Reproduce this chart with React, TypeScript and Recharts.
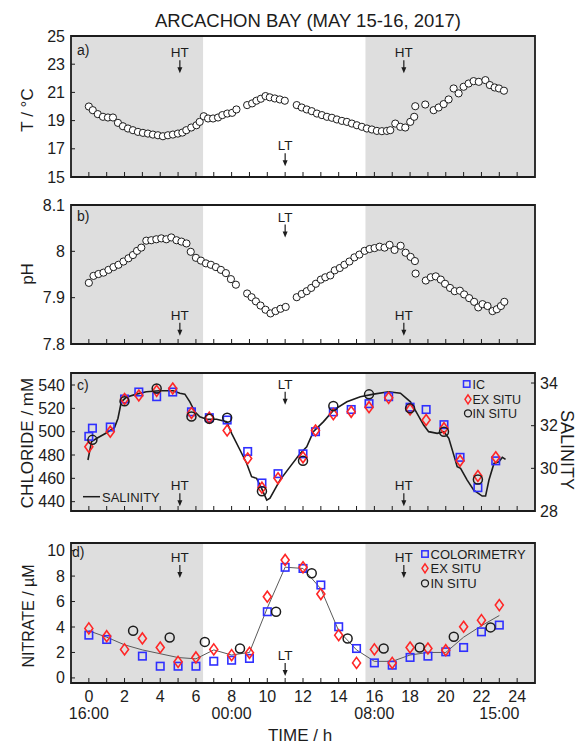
import React from 'react';
import { ComposedChart, Scatter, Line, XAxis, YAxis, ReferenceArea, ReferenceDot } from 'recharts';

const FONT = '"Liberation Sans", Arial, Helvetica, sans-serif';
const INK = '#1c1c1c';
const BLUE = '#2f2fff';
const RED = '#ff2626';
const SHADE = '#dedede';

// ---------- axis / tick data ----------
const hourTicks = [0, 1, 2, 3, 4, 5, 6, 7, 8, 9, 10, 11, 12, 13, 14, 15, 16, 17, 18, 19, 20, 21, 22, 23, 24];
const clockTickHours = [0, 8, 16, 23];
const clockTickLabels = ['16:00', '00:00', '08:00', '15:00'];
const tempTicks = [15, 17, 19, 21, 23, 25];
const phTicks = [7.8, 7.9, 8, 8.1];
const chlorideTicks = [440, 460, 480, 500, 520, 540];
const salinityTicks = [28, 30, 32, 34];
const nitrateTicks = [0, 2, 4, 6, 8, 10];
const nightStarts = [-1, 15.5];
const nightEnds = [6.4, 25];

// ---------- a) temperature ----------
const tempHours = [
  0, 0.22, 0.5, 0.79, 1.07, 1.35, 1.63, 1.91, 2.19, 2.47,
  2.75, 3.03, 3.31, 3.59, 3.87, 4.15, 4.43, 4.71, 4.99, 5.24,
  5.46, 5.74, 6.03, 6.21, 6.44, 6.68, 6.96, 7.24, 7.48, 7.76,
  8.03, 8.27, 8.87, 9.15, 9.39, 9.64, 9.9, 10.14, 10.42, 10.7,
  10.98, 11.65, 11.93, 12.21, 12.49, 12.78, 13.06, 13.34, 13.62, 13.9,
  14.18, 14.46, 14.74, 15.02, 15.3, 15.58, 15.86, 16.14, 16.42, 16.7,
  16.89, 17.17, 17.45, 17.73, 18.01, 18.23, 18.29, 18.85, 19.32, 19.6,
  19.88, 20.16, 20.44, 20.72, 21.0, 21.28, 21.56, 21.85, 22.22, 22.47,
  22.74, 22.98, 23.26,
];
const tempValues = [
  20.0, 19.74, 19.46, 19.27, 19.22, 19.22, 18.84, 18.6, 18.44, 18.32,
  18.2, 18.13, 18.08, 18.01, 17.96, 17.89, 17.96, 18.01, 18.08, 18.15,
  18.32, 18.51, 18.67, 18.91, 19.31, 19.15, 19.15, 19.22, 19.39, 19.5,
  19.55, 19.79, 20.1, 20.22, 20.41, 20.55, 20.74, 20.65, 20.57, 20.5,
  20.41, 20.1, 19.93, 19.79, 19.67, 19.5, 19.39, 19.27, 19.2, 19.08,
  18.98, 18.91, 18.79, 18.67, 18.56, 18.44, 18.37, 18.27, 18.25, 18.27,
  18.32, 18.79, 18.56, 18.51, 18.91, 19.27, 20.02, 20.14, 19.74, 19.93,
  20.17, 20.5, 21.28, 20.93, 21.4, 21.63, 21.8, 21.75, 21.87, 21.52,
  21.35, 21.28, 21.12,
];

// ---------- b) pH ----------
const phHours = [
  0, 0.26, 0.54, 0.82, 1.1, 1.38, 1.66, 1.94, 2.22, 2.47,
  2.7, 2.94, 3.22, 3.5, 3.78, 4.06, 4.34, 4.62, 4.91, 5.19,
  5.47, 5.71, 6.0, 6.28, 6.56, 6.84, 7.12, 7.4, 7.68, 7.96,
  8.24, 8.87, 9.12, 9.36, 9.62, 9.9, 10.18, 10.46, 10.74, 11.03,
  11.65, 11.93, 12.21, 12.46, 12.72, 13.0, 13.25, 13.53, 13.78, 14.06,
  14.32, 14.6, 14.88, 15.16, 15.45, 15.73, 16.01, 16.29, 16.57, 16.85,
  17.13, 17.47, 17.75, 18.03, 18.27, 18.31, 18.88, 19.16, 19.44, 19.72,
  19.96, 20.24, 20.5, 20.79, 21.03, 21.31, 21.59, 21.82, 22.06, 22.34,
  22.62, 22.86, 23.09, 23.28,
];
const phValues = [
  7.932, 7.947, 7.951, 7.954, 7.96, 7.966, 7.971, 7.978, 7.985, 7.992,
  8.001, 8.008, 8.023, 8.024, 8.026, 8.028, 8.026, 8.03, 8.024, 8.021,
  8.017, 7.999, 7.986, 7.98, 7.974, 7.971, 7.966, 7.96, 7.953, 7.94,
  7.928, 7.909, 7.901, 7.892, 7.883, 7.874, 7.866, 7.871, 7.876, 7.88,
  7.901, 7.908, 7.914, 7.921, 7.93, 7.939, 7.944, 7.948, 7.959, 7.964,
  7.971, 7.978, 7.987, 7.993, 8.001, 8.005, 8.007, 8.01, 8.008, 8.014,
  8.003, 8.012, 7.997, 7.988, 7.979, 7.952, 7.937, 7.944, 7.946, 7.939,
  7.93, 7.921, 7.914, 7.915, 7.907, 7.899, 7.891, 7.879, 7.886, 7.882,
  7.871, 7.875, 7.882, 7.891,
];

// ---------- c) chloride / salinity ----------
const clHours = [0, 0.2, 1.2, 2.0, 2.8, 3.8, 4.7, 5.75, 6.75, 7.75, 8.9, 9.7, 10.6, 12.0, 12.7, 13.7, 14.7, 15.7, 16.8, 18.0, 18.9, 19.9, 20.8, 21.8, 22.8];
const clIC = [496, 503, 504, 528, 534, 530, 534, 517, 512, 510, 483, 456, 464, 481, 500, 517, 519, 524, 530, 521, 519, 506, 478, 452, 475];
const clExSitu = [487, null, 500, 528, 531, 535, 537, 516, 512, 501, 477, 452, 460, 478, 501, 515, 517, 521, 529, 519, 510, 503, 475, 462, 478];
const clInSitu = [null, 493, null, 526, null, 537, null, 513, 511, 512, null, 449, null, 475, null, 522, null, 532, null, 520, null, 500, null, 459, null];
const salHours = [
  -0.05, 0.15, 0.45, 1.0, 1.44, 1.63, 1.82, 2.1, 2.66, 3.22,
  3.97, 4.72, 5.1, 5.38, 5.66, 5.94, 6.22, 6.6, 7.16, 7.72,
  8.0, 8.47, 8.84, 9.12, 9.4, 9.68, 9.97, 10.15, 10.71, 11.28,
  11.84, 12.21, 12.58, 13.15, 13.71, 14.46, 15.21, 15.96, 16.8, 17.46,
  18.02, 18.39, 18.76, 19.04, 19.52, 19.89, 20.17, 20.45, 20.64, 20.83,
  21.2, 21.57, 22.04, 22.23, 22.42, 22.7, 22.98, 23.17, 23.35,
];
const salValues = [
  30.39, 31.25, 31.41, 31.67, 31.92, 32.34, 33.12, 33.33, 33.48, 33.59,
  33.64, 33.64, 33.52, 33.48, 33.12, 32.65, 32.42, 32.3, 32.3, 32.19,
  31.64, 30.86, 30.24, 29.61, 29.53, 29.06, 28.51, 28.6, 29.45, 30.08,
  30.7, 31.01, 31.72, 32.19, 32.73, 33.12, 33.36, 33.48, 33.59, 33.52,
  33.12, 32.58, 32.03, 31.72, 31.64, 31.72, 31.41, 30.62, 30.08, 30.0,
  29.45, 28.98, 28.7, 28.7, 29.45, 30.23, 30.31, 30.52, 30.42,
];

// ---------- d) nitrate ----------
const colHours = [0, 1, 3, 4, 5, 6, 7, 8, 9, 10, 11, 12, 13, 14, 15, 16, 17, 18, 19, 20, 21, 22, 23];
const colValues = [3.36, 3.02, 1.71, 0.92, 0.92, 0.92, 1.31, 1.39, 1.53, 5.2, 8.69, 8.6, 7.3, 4.02, 2.31, 1.18, 1.0, 1.61, 1.71, 2.05, 2.39, 3.62, 4.15];
const exHours = [0, 1, 2, 3, 4, 5, 6, 7, 8, 9, 10, 11, 12, 13, 14, 15, 16, 17, 18, 19, 20, 21, 22, 23];
const exValues = [3.89, 3.28, 2.24, 3.1, 2.39, 1.26, 1.61, 2.24, 1.79, 1.97, 6.38, 9.27, 8.69, 6.59, 3.36, 1.18, 2.24, 1.18, 2.39, 2.31, 2.18, 4.02, 4.54, 5.72];
const inHours = [2.48, 4.53, 6.5, 8.47, 10.49, 12.49, 14.5, 16.52, 18.54, 20.45, 22.51];
const inValues = [3.7, 3.18, 2.83, 2.31, 5.2, 8.22, 3.1, 2.31, 2.39, 3.23, 3.97];
const nitLineHours = [0, 1, 2, 3, 4, 5, 6, 7, 8, 9, 10, 11, 12, 13, 14, 15, 16, 17, 18, 19, 20, 21, 22, 23];
const nitLineValues = [3.7, 3.2, 2.6, 2.2, 1.9, 1.6, 1.5, 2.2, 1.8, 2.0, 5.5, 8.7, 8.6, 7.0, 3.7, 2.2, 1.3, 1.3, 1.8, 2.0, 2.0, 3.2, 4.1, 4.9];

// ---------- tide annotations ----------
const tideLabels = ['HT', 'LT', 'HT'];
const tideHours = [5.1, 11.0, 17.65];
const tideA = [23.85, 17.25, 23.85];
const tideB = [7.863, 8.075, 7.863];
const tideC = [454, 541, 454];
const tideD = [9.5, 1.8, 9.5];

const pts = (xs: number[], ys: (number | null)[]) =>
  xs.map((x, i) => ({ x, y: ys[i] })).filter((p) => p.y !== null && p.y !== undefined);

const circleShape = (r: number, fill: string, sw: number) => (p: any) =>
  <circle cx={p.cx} cy={p.cy} r={r} fill={fill} stroke={INK} strokeWidth={sw} />;
const squareShape = (s: number) => (p: any) =>
  <rect x={p.cx - s / 2} y={p.cy - s / 2} width={s} height={s} fill="none" stroke={BLUE} strokeWidth={1.6} />;
const diamondShape = (w: number, h: number) => (p: any) =>
  <path d={`M${p.cx},${p.cy - h / 2} L${p.cx + w / 2},${p.cy} L${p.cx},${p.cy + h / 2} L${p.cx - w / 2},${p.cy} Z`} fill="none" stroke={RED} strokeWidth={1.6} />;

const tideShape = (label: string) => (p: any) => (
  <g>
    <text x={p.cx} y={p.cy + 5} textAnchor="middle" fontSize={13.5} fontFamily={FONT} fill={INK}>{label}</text>
    <line x1={p.cx} x2={p.cx} y1={p.cy + 8} y2={p.cy + 17} stroke={INK} strokeWidth={1.2} />
    <path d={`M${p.cx - 2.5},${p.cy + 15} L${p.cx + 2.5},${p.cy + 15} L${p.cx},${p.cy + 21} Z`} fill={INK} />
  </g>
);

const XTick = (props: any) => {
  const { x, y, payload, showLabels } = props;
  const v = payload.value;
  const ci = clockTickHours.indexOf(v);
  return (
    <g>
      <line x1={x} x2={x} y1={y} y2={y - 5} stroke={INK} strokeWidth={1} />
      {showLabels && v % 2 === 0 && (
        <text x={x} y={y + 18.5} textAnchor="middle" fontSize={16} fontFamily={FONT} fill={INK}>{v}</text>
      )}
      {showLabels && ci >= 0 && (
        <text x={x} y={y + 36} textAnchor="middle" fontSize={16} fontFamily={FONT} fill={INK}>{clockTickLabels[ci]}</text>
      )}
    </g>
  );
};

const YTickLeft = (props: any) => {
  const { x, y, payload } = props;
  return (
    <g>
      <line x1={x} x2={x + 4} y1={y} y2={y} stroke={INK} strokeWidth={1} />
      <text x={x - 6} y={y + 5.5} textAnchor="end" fontSize={16} fontFamily={FONT} fill={INK}>{String(payload.value)}</text>
    </g>
  );
};
const YTickRight = (props: any) => {
  const { x, y, payload } = props;
  return (
    <g>
      <line x1={x - 4} x2={x} y1={y} y2={y} stroke={INK} strokeWidth={1} />
      <text x={x + 5} y={y + 5.5} textAnchor="start" fontSize={16} fontFamily={FONT} fill={INK}>{String(payload.value)}</text>
    </g>
  );
};

const xAxis = (height: number, showLabels: boolean) => (
  <XAxis key="xa" type="number" dataKey="x" domain={[-1, 25]} ticks={hourTicks} interval={0}
    allowDataOverflow axisLine={false} tickLine={false} tickSize={0} tickMargin={0} height={height}
    tick={(p: any) => <XTick {...p} showLabels={showLabels} />} />
);
const yAxisLeft = (domain: number[], ticks: number[], id: string) => (
  <YAxis key="yl" yAxisId={id} type="number" dataKey="y" domain={domain} ticks={ticks} interval={0}
    allowDataOverflow axisLine={false} tickLine={false} tickSize={0} tickMargin={0} width={71}
    tick={(p: any) => <YTickLeft {...p} />} />
);
const shading = (id: string) =>
  nightStarts.map((s, i) => (
    <ReferenceArea key={'sh' + i} yAxisId={id} x1={s} x2={nightEnds[i]} fill={SHADE} fillOpacity={1} stroke="none" ifOverflow="hidden" />
  ));
const frame = (id: string, domain: number[]) => (
  <ReferenceArea key="frame" yAxisId={id} x1={-1} x2={25} y1={domain[0]} y2={domain[1]} fill="none" stroke={INK} strokeWidth={1.8} ifOverflow="visible" />
);
const tides = (id: string, ys: number[]) =>
  tideLabels.map((l, i) => (
    <ReferenceDot key={'td' + i} yAxisId={id} x={tideHours[i]} y={ys[i]} r={0} ifOverflow="visible" shape={tideShape(l)} />
  ));

const domA = [15, 25];
const domB = [7.8, 8.1];
const domC = [432, 550.3];
const domCR = [28, 34.47];
const domD = [-0.4, 10.6];

export default function App() {
  const W = 579;
  const abs = (top: number): React.CSSProperties => ({ position: 'absolute', left: 0, top });
  return (
    <div style={{ position: 'absolute', left: 0, top: 0, width: 579, height: 744, background: '#ffffff', fontFamily: FONT }}>
      {/* a) temperature */}
      <div style={abs(26)}>
        <ComposedChart width={W} height={161} margin={{ top: 10, right: 44, bottom: 0, left: 0 }}>
          {xAxis(10, false)}
          {yAxisLeft(domA, tempTicks, 'l')}
          {shading('l')}
          <Scatter yAxisId="l" data={pts(tempHours, tempValues)} dataKey="y" isAnimationActive={false} shape={circleShape(3.6, '#ffffff', 1)} />
          {tides('l', tideA)}
          {frame('l', domA)}
        </ComposedChart>
      </div>

      {/* b) pH */}
      <div style={abs(195)}>
        <ComposedChart width={W} height={159} margin={{ top: 10, right: 44, bottom: 0, left: 0 }}>
          {xAxis(10, false)}
          {yAxisLeft(domB, phTicks, 'l')}
          {shading('l')}
          <Scatter yAxisId="l" data={pts(phHours, phValues)} dataKey="y" isAnimationActive={false} shape={circleShape(3.6, '#ffffff', 1)} />
          {tides('l', tideB)}
          {frame('l', domB)}
        </ComposedChart>
      </div>

      {/* c) chloride & salinity */}
      <div style={abs(363)}>
        <ComposedChart width={W} height={158} margin={{ top: 10, right: 0, bottom: 0, left: 0 }}>
          {xAxis(10, false)}
          {yAxisLeft(domC, chlorideTicks, 'l')}
          <YAxis yAxisId="r" orientation="right" type="number" dataKey="y" domain={domCR} ticks={salinityTicks} interval={0}
            allowDataOverflow axisLine={false} tickLine={false} tickSize={0} tickMargin={0} width={44}
            tick={(p: any) => <YTickRight {...p} />} />
          {shading('l')}
          <Line yAxisId="r" data={pts(salHours, salValues)} dataKey="y" type="linear" stroke={INK} strokeWidth={1.6} dot={false} isAnimationActive={false} />
          <Scatter yAxisId="l" data={pts(clHours, clIC)} dataKey="y" isAnimationActive={false} shape={squareShape(7.5)} />
          <Scatter yAxisId="l" data={pts(clHours, clExSitu)} dataKey="y" isAnimationActive={false} shape={diamondShape(8, 11)} />
          <Scatter yAxisId="l" data={pts(clHours, clInSitu)} dataKey="y" isAnimationActive={false} shape={circleShape(4.5, 'none', 1.5)} />
          {tides('l', tideC)}
          {frame('l', domC)}
        </ComposedChart>
      </div>

      {/* d) nitrate */}
      <div style={abs(533)}>
        <ComposedChart width={W} height={211} margin={{ top: 10, right: 44, bottom: 0, left: 0 }}>
          {xAxis(61, true)}
          {yAxisLeft(domD, nitrateTicks, 'l')}
          {shading('l')}
          <Line yAxisId="l" data={pts(nitLineHours, nitLineValues)} dataKey="y" type="linear" stroke="#5a5a5a" strokeWidth={1} dot={false} isAnimationActive={false} />
          <Scatter yAxisId="l" data={pts(colHours, colValues)} dataKey="y" isAnimationActive={false} shape={squareShape(7.5)} />
          <Scatter yAxisId="l" data={pts(exHours, exValues)} dataKey="y" isAnimationActive={false} shape={diamondShape(8, 11)} />
          <Scatter yAxisId="l" data={pts(inHours, inValues)} dataKey="y" isAnimationActive={false} shape={circleShape(4.5, 'none', 1.5)} />
          {tides('l', tideD)}
          {frame('l', domD)}
        </ComposedChart>
      </div>

      {/* titles, labels, legends */}
      <svg width={579} height={744} style={{ position: 'absolute', left: 0, top: 0, pointerEvents: 'none' }} fontFamily={FONT}>
        <text x={308} y={26.5} textAnchor="middle" fontSize={18.5} fill={INK}>ARCACHON BAY (MAY 15-16, 2017)</text>

        <text transform="translate(27,110) rotate(-90)" textAnchor="middle" dominantBaseline="central" fontSize={17} fill={INK}>T / °C</text>
        <text transform="translate(27,274) rotate(-90)" textAnchor="middle" dominantBaseline="central" fontSize={17} fill={INK}>pH</text>
        <text transform="translate(27,443) rotate(-90)" textAnchor="middle" dominantBaseline="central" fontSize={17} fill={INK}>CHLORIDE / mM</text>
        <text transform="translate(28,616) rotate(-90)" textAnchor="middle" dominantBaseline="central" fontSize={16} fill={INK}>NITRATE / µM</text>
        <text transform="translate(567,450) rotate(90)" textAnchor="middle" dominantBaseline="central" fontSize={18} fill={INK}>SALINITY</text>
        <text x={300} y={741} textAnchor="middle" fontSize={17} fill={INK}>TIME / h</text>

        <text x={77} y={55} fontSize={14} fill={INK}>a)</text>
        <text x={77} y={220.5} fontSize={14} fill={INK}>b)</text>
        <text x={77} y={389.5} fontSize={14} fill={INK}>c)</text>
        <text x={72} y={557} fontSize={14} fill={INK}>d)</text>

        {/* legend c */}
        <rect x={463.5} y={380.8} width={6.4} height={6.4} fill="none" stroke={BLUE} strokeWidth={1.5} />
        <text x={472.5} y={388.5} fontSize={12.5} fill={INK}>IC</text>
        <path d="M468,394.8 L471,399.3 L468,403.8 L465,399.3 Z" fill="none" stroke={RED} strokeWidth={1.5} />
        <text x={472.5} y={403.8} fontSize={12.5} fill={INK}>EX SITU</text>
        <circle cx={468} cy={413.3} r={3.5} fill="none" stroke={INK} strokeWidth={1.3} />
        <text x={472.5} y={418} fontSize={12.5} fill={INK}>IN SITU</text>
        <line x1={83} x2={100} y1={496.7} y2={496.7} stroke={INK} strokeWidth={1.5} />
        <text x={102} y={501.5} fontSize={13} fill={INK}>SALINITY</text>

        {/* legend d */}
        <rect x={421.8} y={550.8} width={6.4} height={6.4} fill="none" stroke={BLUE} strokeWidth={1.5} />
        <text x={430.5} y={558.5} fontSize={13} fill={INK}>COLORIMETRY</text>
        <path d="M425,563.8 L428,568.3 L425,572.8 L422,568.3 Z" fill="none" stroke={RED} strokeWidth={1.5} />
        <text x={430.5} y={573} fontSize={13} fill={INK}>EX SITU</text>
        <circle cx={425} cy={583.3} r={3.5} fill="none" stroke={INK} strokeWidth={1.3} />
        <text x={430.5} y={588} fontSize={13} fill={INK}>IN SITU</text>
      </svg>
    </div>
  );
}
